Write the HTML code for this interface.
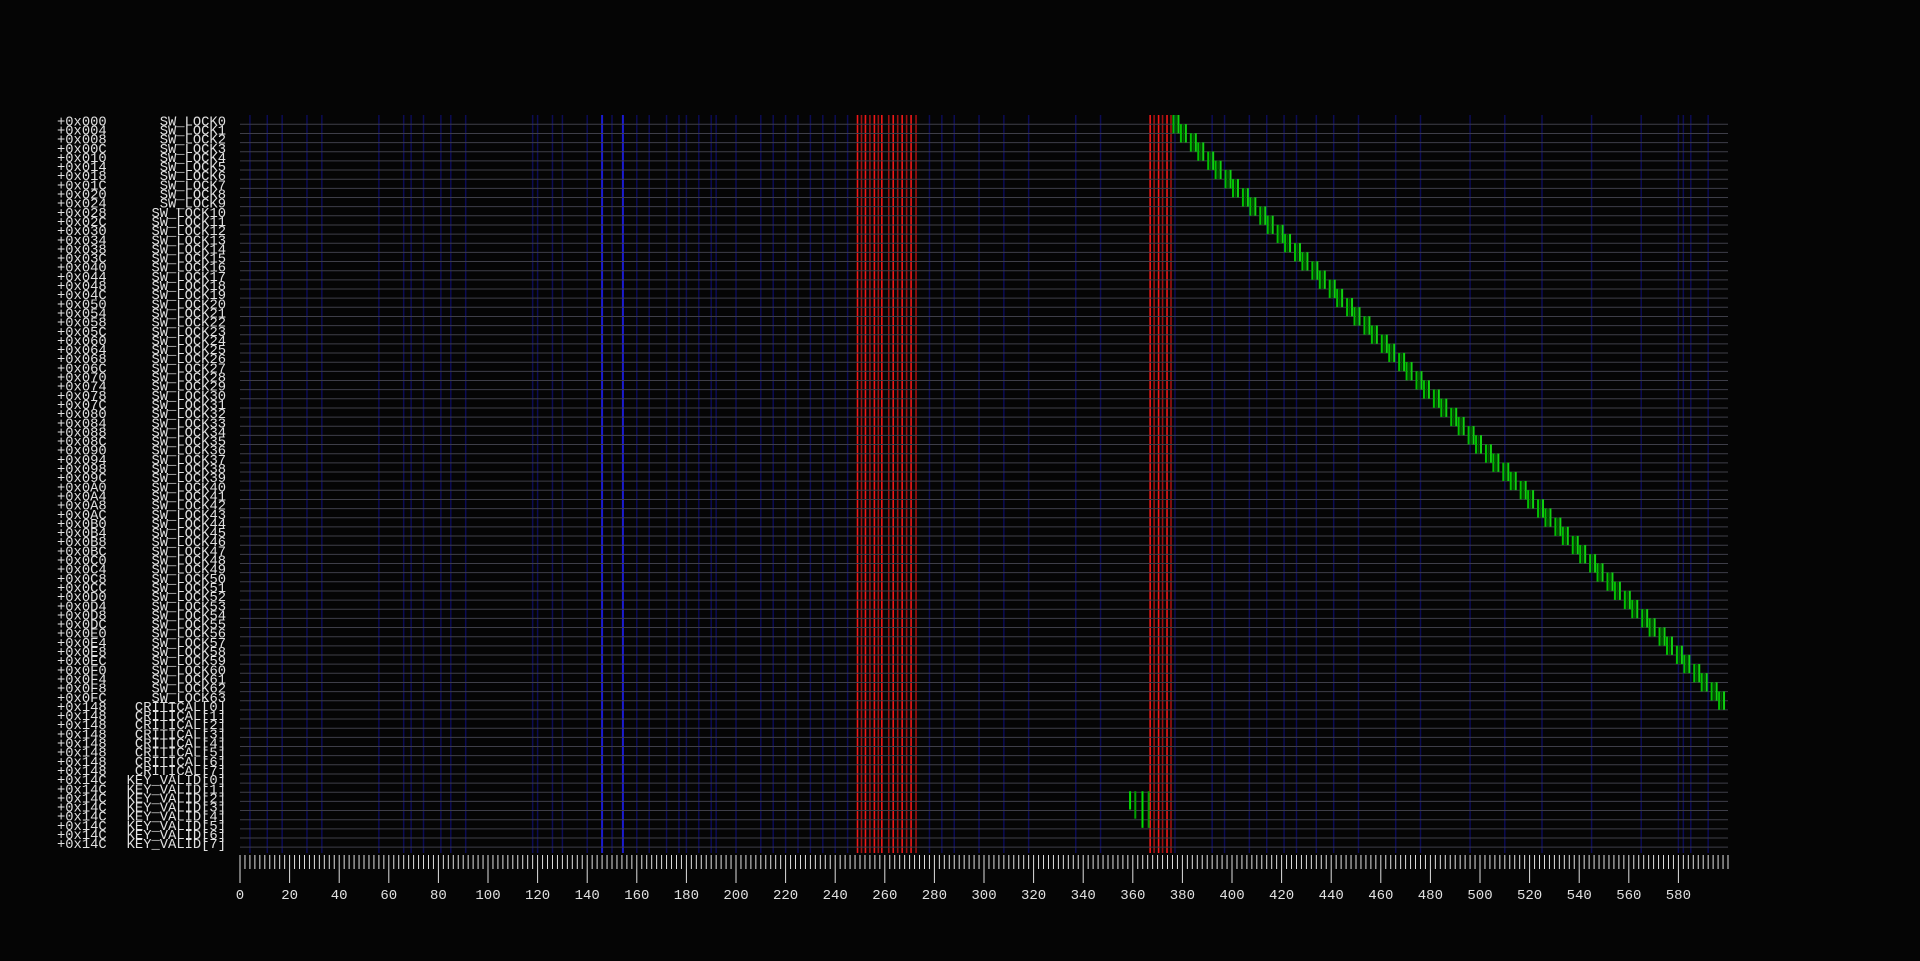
<!DOCTYPE html>
<html><head><meta charset="utf-8"><style>
html,body{margin:0;padding:0;background:#050505;width:1920px;height:961px;overflow:hidden}
svg{display:block}
text{font-family:"Liberation Mono","DejaVu Sans Mono",monospace;fill:#e0e0e0}
</style></head><body>
<svg id="chart" width="1920" height="961" xmlns="http://www.w3.org/2000/svg">
<rect width="1920" height="961" fill="#050505"/>
<g id="vlines"></g>
<g id="grid"></g>
<g id="green"></g>
<g id="labels"></g>
<g id="axis"></g>
</svg>
<script>
const swLockStarts=[376,379,383,386,390,393,397,400,404,407,411,414,418,421,425,428,432,435,439,442,446,449,453,456,460,463,467,470,474,477,481,484,488,491,495,498,502,505,509,512,516,519,523,526,530,533,537,540,544,547,551,554,558,561,565,568,572,575,579,582,586,589,593,596];
const keyValidMarks=[[358.5,73,75],[360.6,73,76],[363.5,73,77],[366,73,77]];
const redLines=[249,250.6,252.2,254,255.8,257.4,258.8,261.6,263.4,265.2,267,268.8,270.6,272.6,367,368.6,370.4,372,373.8,375.4];
const blueBright=[146,154.4];
const blueFaint=[4,11,17,27,33,56,66,69,74,81,85,91,118,120,126,130,140,150,160,165,172,177,180,185,190,192,200,210,215,220,225,230,235,240,245,278,283,288,298,308,318,337,347,377,392,397,407,414,421,426,434,441,451,466,476,496,510,525,545,565,580,582,585,592];
const xTicks=[0,20,40,60,80,100,120,140,160,180,200,220,240,260,280,300,320,340,360,380,400,420,440,460,480,500,520,540,560,580];

const NS="http://www.w3.org/2000/svg";
const X0=240,PX=2.48,TOP=115,BOT=853,L0=124.3,DY=9.15,XMAX=600;
const xs=u=>X0+u*PX;
const ly=k=>L0+k*DY;
function mk(tag,parent,attrs){const e=document.createElementNS(NS,tag);for(const k in attrs)e.setAttribute(k,attrs[k]);parent.appendChild(e);return e;}

const rows=[];
for(let i=0;i<64;i++)rows.push(['+0x'+(i*4).toString(16).toUpperCase().padStart(3,'0'),'SW_LOCK'+i]);
for(let i=0;i<8;i++)rows.push(['+0x148','CRITICAL['+i+']']);
for(let i=0;i<8;i++)rows.push(['+0x14C','KEY_VALID['+i+']']);

const vl=document.getElementById('vlines');
blueFaint.forEach(u=>{const e=mk('line',vl,{x1:xs(u),x2:xs(u),y1:TOP,y2:BOT,stroke:'#0c0c55','stroke-width':1.5});

});
blueBright.forEach(u=>{const e=mk('line',vl,{x1:xs(u),x2:xs(u),y1:TOP,y2:BOT,stroke:'#1a1ad0','stroke-width':2});

});
redLines.forEach((u,i)=>{const e=mk('line',vl,{x1:xs(u),x2:xs(u),y1:TOP,y2:BOT,stroke:i%2?'#a01010':'#f01818','stroke-width':1.6});

});

const gr=document.getElementById('grid');
rows.forEach((r,k)=>{const e=mk('line',gr,{x1:X0,x2:xs(XMAX),y1:ly(k),y2:ly(k),stroke:'#3e3e48','stroke-width':1});

});

const gn=document.getElementById('green');
swLockStarts.forEach((u,i)=>{
  [[0,'#00c000'],[1,'#005000'],[2,'#10d010']].forEach(([d,c])=>{
    const e=mk('rect',gn,{x:xs(u+d),y:TOP+i*DY,width:2,height:DY*2,fill:c});
    
    
  });
});
keyValidMarks.forEach(([u,r0,r1],i)=>{
  const e=mk('rect',gn,{x:xs(u),y:ly(r0)-1,width:2,height:(r1-r0)*DY,fill:i%2?'#00a000':'#00e000'});
  
  
});

const lb=document.getElementById('labels');
rows.forEach((r,k)=>{
  const y=ly(k)+1;
  const a=mk('text',lb,{x:57,y:y,'font-size':13.8});a.textContent=r[0];
  
  
  const b=mk('text',lb,{x:226,y:y,'font-size':13.8,'text-anchor':'end'});b.textContent=r[1];
  
  
});

const ax=document.getElementById('axis');
for(let u=0;u<=XMAX;u+=2){
  const major=u%20===0&&u<XMAX;
  const e=mk('line',ax,{x1:xs(u),x2:xs(u),y1:855,y2:major?883:869,stroke:'#e0e0e0','stroke-width':1});
  
  
}
xTicks.forEach(t=>{const e=mk('text',ax,{x:xs(t),y:899,'font-size':14,'text-anchor':'middle'});e.textContent=t;

});
</script>
</body></html>
